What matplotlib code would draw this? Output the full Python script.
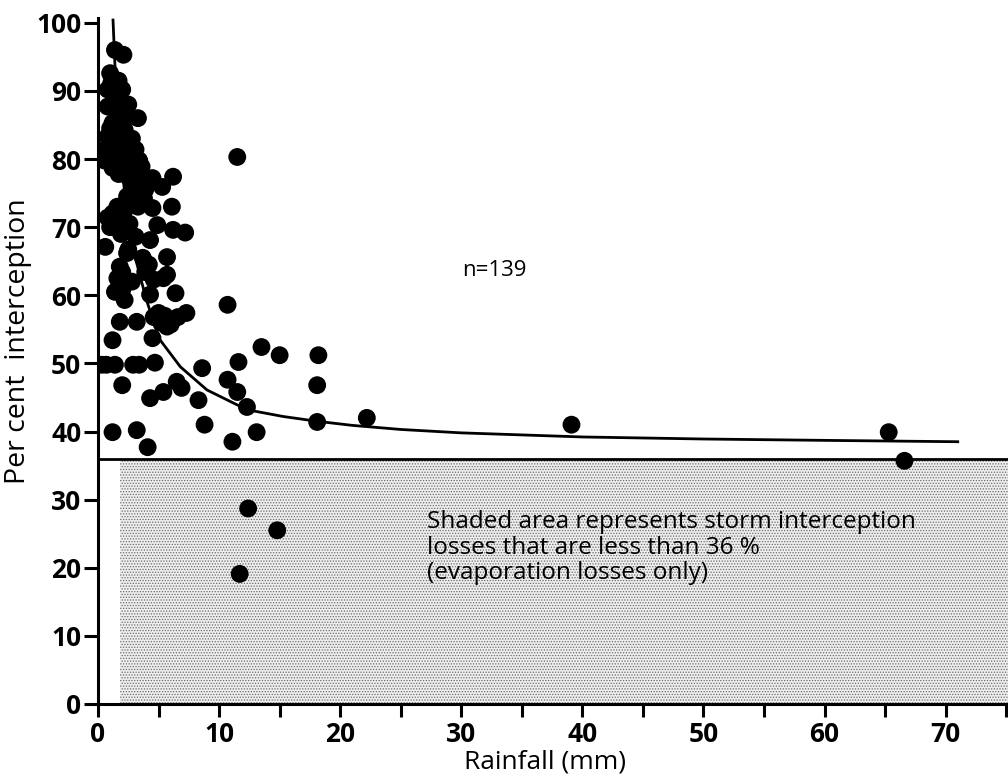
import numpy as np
import matplotlib
matplotlib.use('Agg')
import matplotlib.pyplot as plt

plt.rcParams['font.family'] = ['Open Sans', 'DejaVu Sans']
plt.rcParams['hatch.color'] = '#6a6a6a'
plt.rcParams['hatch.linewidth'] = 0.6

# storm rainfall (mm) and per cent interception, one entry per storm
rain = [1.4, 2.1, 1.0, 2.0, 0.8, 2.5, 3.3, 0.8, 1.2, 2.2, 0.8, 3.1, 0.6,
        1.5, 1.3, 1.8, 1.6, 2.0, 1.5, 1.2, 1.8, 0.3, 1.0, 0.5, 2.0,
        1.2, 3.6, 2.5, 4.5, 6.2, 5.3, 3.9, 2.8, 6.1, 4.5, 3.3, 1.6,
        0.8, 2.0, 4.9, 6.2, 7.2, 1.4, 3.1, 4.3, 0.6, 2.5, 3.7, 5.7, 1.8,
        2.6, 3.2, 2.9, 3.6, 3.0, 3.8, 2.4, 1.2, 2.2, 2.6, 1.9, 1.0,
        2.4, 2.0, 3.9, 2.8, 5.7, 1.4, 2.2, 4.3, 6.4, 1.8, 3.2, 5.0, 6.2,
        7.3, 5.7, 4.5, 1.2, 0.3, 1.4, 2.9, 4.7, 8.6,
        4.2, 1.6, 4.6, 5.4, 2.0, 4.6, 5.5, 6.6, 5.2, 6.0, 0.7, 3.4,
        2.0, 4.3, 5.4, 6.5, 6.9, 8.3, 1.2, 3.2, 4.1, 8.8,
        10.7, 13.5, 15.0, 11.6, 10.7, 11.5, 12.3, 13.1, 11.1, 18.1, 18.1, 18.2,
        11.5, 22.2, 39.1, 65.3, 66.6, 12.4, 14.8, 11.7,
        1.1, 1.7, 2.4, 1.0, 1.5, 2.8, 3.4, 1.7, 2.3]
pct = [96.0, 95.3, 92.6, 90.2, 90.2, 88.0, 86.0, 87.7, 85.3, 84.3, 83.3, 81.4, 81.4,
       89.0, 88.5, 87.0, 86.0, 85.5, 83.8, 82.5, 82.0, 81.0, 80.5, 79.8, 80.2,
       78.7, 78.9, 77.4, 77.2, 77.4, 75.9, 75.5, 75.0, 73.0, 72.8, 73.0, 73.0,
       71.4, 71.1, 70.3, 69.6, 69.2, 70.0, 68.6, 68.1, 67.1, 66.7, 65.5, 65.6, 64.2,
       78.5, 77.5, 76.5, 76.3, 74.0, 74.2, 74.5, 72.0, 72.5, 70.5, 69.0, 70.0,
       66.2, 63.4, 63.4, 62.0, 63.0, 60.5, 59.3, 60.1, 60.3, 56.1, 56.1, 57.4, 56.4,
       57.4, 55.4, 53.7, 53.4, 49.8, 49.8, 49.8, 50.1, 49.3,
       64.5, 62.5, 62.3, 62.5, 60.8, 56.8, 57.0, 56.8, 56.0, 55.7, 49.8, 49.8,
       46.8, 44.9, 45.8, 47.3, 46.4, 44.6, 39.9, 40.2, 37.7, 41.0,
       58.6, 52.4, 51.2, 50.2, 47.6, 45.8, 43.6, 39.9, 38.5, 41.4, 46.8, 51.2,
       80.3, 42.0, 41.0, 39.9, 35.7, 28.7, 25.5, 19.1,
       91.2, 91.5, 86.5, 84.5, 80.0, 83.0, 79.8, 77.8, 82.8]

# fitted interception curve
curve_x = [1.24, 1.4, 1.6, 1.8, 2.0, 2.3, 2.6, 2.9, 3.2, 4.0, 5.1, 6.8,
           9.0, 12.3, 15.3, 18.1, 21, 25, 30, 35, 40, 50, 60, 71]
curve_y = [100.4, 93.7, 87.3, 82.3, 78.3, 73.5, 69.9, 67.0, 64.7, 59.3, 53.5, 49.5,
           46.1, 43.2, 42.2, 41.5, 40.9, 40.3, 39.8, 39.5, 39.2, 38.9, 38.7, 38.5]

threshold = 36
shade_x = [1.8, 75.2]

fig = plt.figure(figsize=(10.08, 7.77), dpi=100)
ax = fig.add_axes([98 / 1008, 73 / 777, 910 / 1008, 686 / 777])

ax.fill_between(shade_x, 0, threshold, facecolor='#eeeeee', edgecolor='none',
                hatch='......', zorder=1)
ax.axhline(threshold, color='black', lw=2.0, zorder=3)
ax.plot(curve_x, curve_y, color='black', lw=2.0, zorder=3)
ax.scatter(rain, pct, s=165, color='black', edgecolors='none', zorder=4)

ax.text(30.1, 63.7, 'n=139', fontsize=16, va='center', ha='left')
ax.text(27.2, 17.4, 'Shaded area represents storm interception\n'
        'losses that are less than 36 %\n(evaporation losses only)',
        fontsize=17.5, va='bottom', ha='left', linespacing=1.1, zorder=5)

ax.set_xlim(0, 75.15)
ax.set_ylim(0, 100.7)
for side in ['top', 'right']:
    ax.spines[side].set_visible(False)
for side in ['left', 'bottom']:
    ax.spines[side].set_linewidth(2.2)

ax.set_xticks(np.arange(0, 71, 10))
ax.set_xticks(np.arange(5, 76, 10), minor=True)
ax.set_yticks(np.arange(0, 101, 10))
ax.tick_params(which='both', direction='out', width=2.2, labelsize=19)
ax.tick_params(axis='x', which='both', length=9, pad=3)
ax.tick_params(axis='y', length=10, pad=2)
for lab in ax.get_xticklabels() + ax.get_yticklabels():
    lab.set_fontweight('bold')

ax.set_xlabel('Rainfall (mm)', fontsize=19)
ax.set_ylabel('Per cent  interception', fontsize=20.5)
ax.xaxis.set_label_coords(0.491, -0.067)
ax.yaxis.set_label_coords(-0.0725, 0.529)

fig.savefig('out.png', dpi=100)
